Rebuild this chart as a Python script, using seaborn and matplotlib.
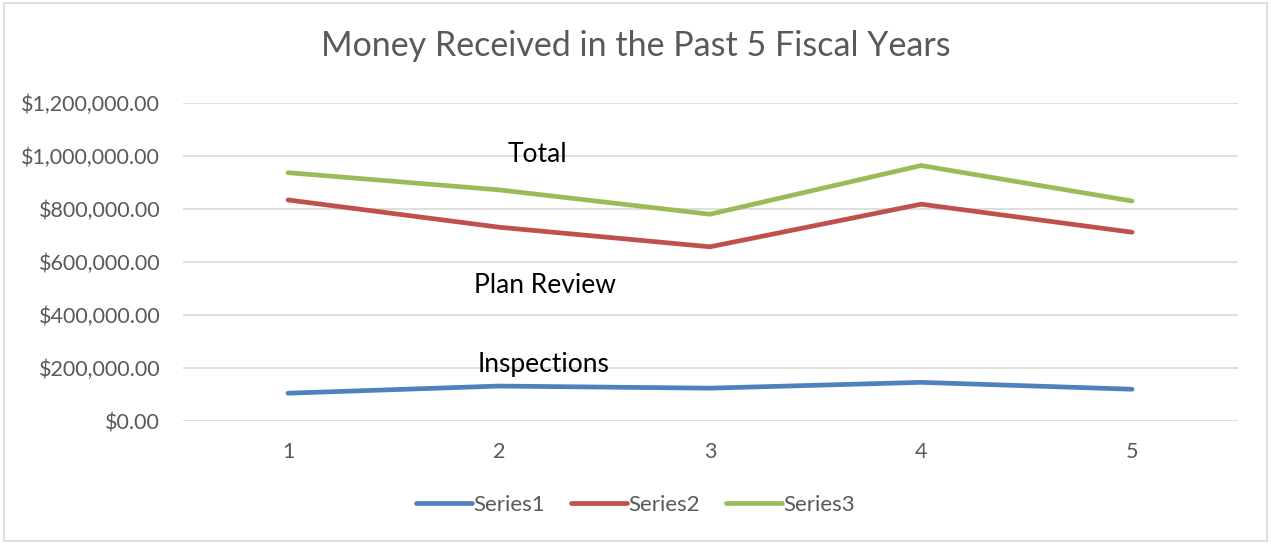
import pandas as pd
import matplotlib.pyplot as plt
import seaborn as sns
from matplotlib.patches import Rectangle
from matplotlib.ticker import FuncFormatter

# ——— Data ———
years = [1, 2, 3, 4, 5]
series1 = [105000, 132000, 124000, 146000, 120000]   # Inspections
series2 = [835000, 732000, 658000, 819000, 713000]   # Plan Review
series3 = [938000, 873000, 781000, 965000, 831000]   # Total
series_names = ['Series1', 'Series2', 'Series3']
y_ticks = [0, 200000, 400000, 600000, 800000, 1000000, 1200000]

# annotations: (text, x, y) in data units
notes = [("Total", 2.18, 1005000),
         ("Plan Review", 2.22, 510000),
         ("Inspections", 2.21, 215000)]

# ——— Style ———
palette = {'Series1': '#4F81BD', 'Series2': '#C0504D', 'Series3': '#9BBB59'}
grey_text = '#595959'
grid_col = '#D9D9D9'

sns.set_style('white')
plt.rcParams['font.family'] = ['Lato', 'DejaVu Sans']

df = pd.DataFrame({
    'Year': years * 3,
    'Amount': series1 + series2 + series3,
    'Series': [s for s in series_names for _ in years],
})

fig = plt.figure(figsize=(12.71, 5.44), dpi=100)
ax = fig.add_axes([0.1436, 0.2261, 0.8301, 0.584])

sns.lineplot(data=df, x='Year', y='Amount', hue='Series',
             palette=palette, linewidth=3.4, ax=ax,
             solid_capstyle='round', solid_joinstyle='miter')

ax.set_xlim(0.5, 5.5)
ax.set_ylim(0, 1200000)
ax.set_xticks(years)
ax.set_yticks(y_ticks)
ax.yaxis.set_major_formatter(FuncFormatter(lambda v, p: f"${v:,.2f}"))
ax.grid(axis='y', color=grid_col, linewidth=1.2)
ax.set_axisbelow(True)
for s in ax.spines.values():
    s.set_visible(False)
ax.tick_params(axis='y', length=0, pad=16, labelsize=15.5, labelcolor=grey_text)
ax.tick_params(axis='x', length=0, pad=15, labelsize=15.5, labelcolor=grey_text)
ax.set_xlabel('')
ax.set_ylabel('')

for txt, x, y in notes:
    ax.text(x, y, txt, ha='center', va='center', fontsize=19, color='black')

fig.suptitle("Money Received in the Past 5 Fiscal Years",
             y=0.945, fontsize=24.5, color=grey_text)

# legend at bottom
handles, labels = ax.get_legend_handles_labels()
ax.get_legend().remove()
fig.legend(handles, labels, loc='center', bbox_to_anchor=(0.5, 0.072),
           ncol=3, frameon=False, fontsize=16, labelcolor=grey_text,
           handlelength=2.5, handletextpad=0.05, columnspacing=1.2)

# chart border
fig.patches.append(Rectangle((0.003, 0.005), 0.994, 0.99, transform=fig.transFigure,
                             fill=False, edgecolor='#D9D9D9', linewidth=1.2))

fig.savefig('out.png', dpi=100)
